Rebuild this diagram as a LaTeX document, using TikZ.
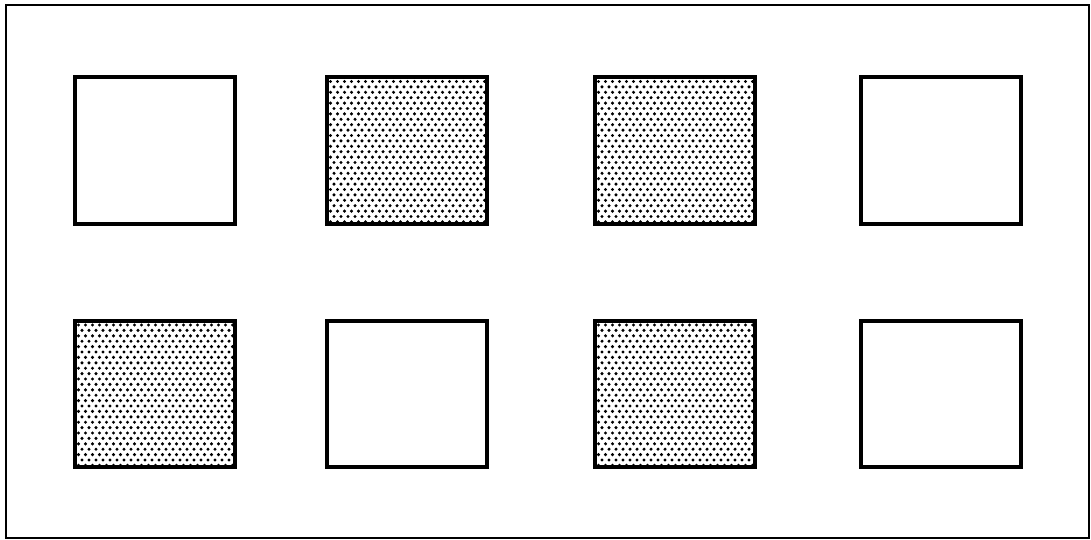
\documentclass[tikz,border=0pt]{standalone}
\begin{document}
\begin{tikzpicture}[
		x=0.5pt, y=-0.5pt,
		frame/.style   = {draw, line width=1.3pt},
		cell/.style    = {draw, line width=2pt, fill=white, inner sep=0pt,
			minimum width=80pt, minimum height=73pt},
		dotcell/.style = {cell, path picture={
				% dots from the node centre, rows staggered
				\foreach \r in {0,...,26} {
					\foreach \c in {0,...,22} {
						\fill[black] ({\c*7+3.5*mod(\r,2)-76}, {\r*5.4-69}) circle (0.85pt);
					}
				}
			}}
		]
		\useasboundingbox (0,0) rectangle (1091,540);
		\draw[frame] (6,5) rectangle (1089,538);
		
		% top row
		\node[cell]    (t1) at (154.5,150.5) {};
		\node[dotcell] (t2) at (406.5,150.5) {};
		\node[dotcell] (t3) at (674.5,150.5) {};
		\node[cell]    (t4) at (940.5,150.5) {};
		
		% bottom row
		\node[dotcell] (b1) at (154.5,394) {};
		\node[cell]    (b2) at (406.5,394) {};
		\node[dotcell] (b3) at (674.5,394) {};
		\node[cell]    (b4) at (940.5,394) {};
	\end{tikzpicture}
\end{document}
